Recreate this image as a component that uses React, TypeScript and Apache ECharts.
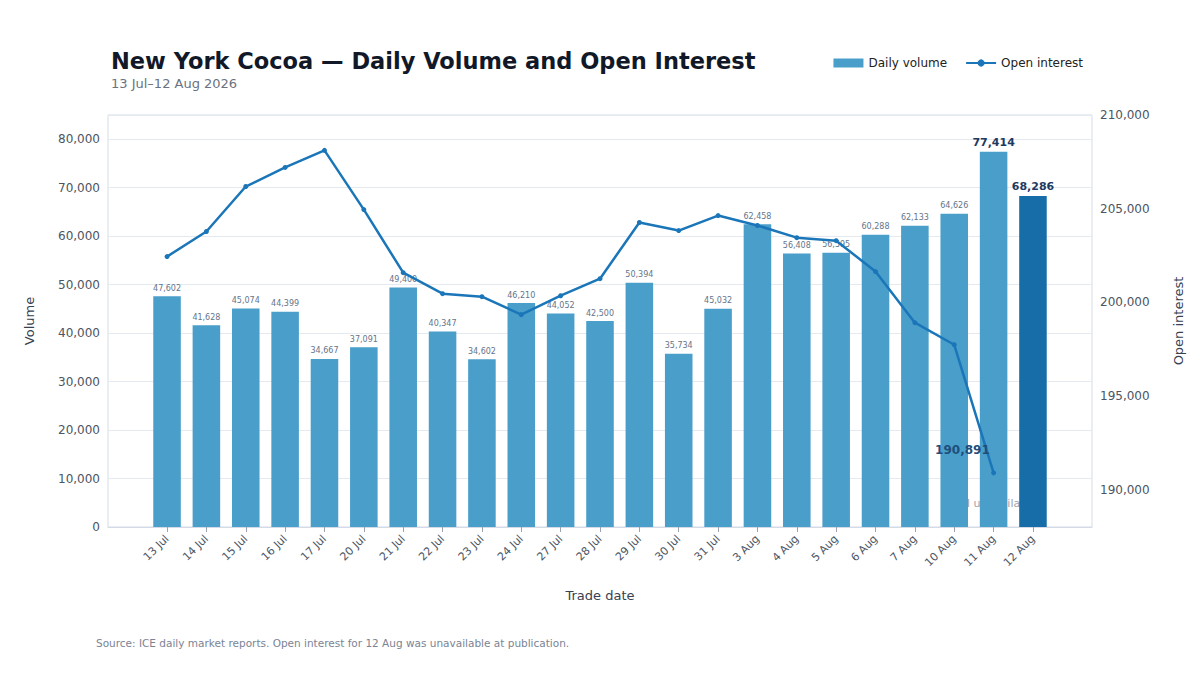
import * as echarts from "echarts";
import { useEffect, useRef } from "react";

const categories = [
  "13 Jul", "14 Jul", "15 Jul", "16 Jul", "17 Jul", "20 Jul", "21 Jul", "22 Jul",
  "23 Jul", "24 Jul", "27 Jul", "28 Jul", "29 Jul", "30 Jul", "31 Jul", "3 Aug",
  "4 Aug", "5 Aug", "6 Aug", "7 Aug", "10 Aug", "11 Aug", "12 Aug",
];
const volume = [
  47602, 41628, 45074, 44399, 34667, 37091, 49400, 40347, 34602, 46210, 44052,
  42500, 50394, 35734, 45032, 62458, 56408, 56595, 60288, 62133, 64626, 77414, 68286,
];
const openInterest: (number | null)[] = [
  202440, 203780, 206180, 207200, 208110, 204950, 201580, 200460, 200300, 199340,
  200350, 201260, 204260, 203830, 204630, 204100, 203450, 203290, 201640, 198910,
  197730, 190891, null,
];

const fmt = (v: number) => v.toLocaleString("en-US");
const FONT = "DejaVu Sans";

const App = () => {
  const ref = useRef<HTMLDivElement>(null);

  useEffect(() => {
    if (!ref.current) return;
    const chart = echarts.init(ref.current, undefined, { renderer: "svg" });
    const last = volume.length - 1;
    const maxIdx = volume.indexOf(Math.max(...volume));
    // one empty slot on each side, as the reference leaves a gap at both ends
    const cats = ["", ...categories, ""];

    const barData = volume.map((v, i) => {
      const strong = i === last || i === maxIdx;
      return {
        value: v,
        itemStyle: i === last ? { color: "#176da7" } : undefined,
        label: {
          show: true,
          position: "top",
          distance: 4,
          formatter: fmt(v),
          fontSize: strong ? 11 : 8,
          fontWeight: strong ? "bold" : "normal",
          color: strong ? "#1e3a5f" : "#64748b",
        },
      };
    });
    const lineData = openInterest.map((v, i) =>
      i === 21
        ? {
            value: v,
            label: {
              show: true,
              position: [-56, -26],
              formatter: fmt(v as number),
              fontSize: 12,
              fontWeight: "bold",
              color: "#1e4f7a",
            },
          }
        : v,
    );

    chart.setOption({
      animation: false,
      textStyle: { fontFamily: FONT },
      title: {
        text: "New York Cocoa — Daily Volume and Open Interest",
        subtext: "13 Jul–12 Aug 2026",
        left: 106,
        top: 44,
        itemGap: 5,
        textStyle: { fontSize: 22.5, fontWeight: "bold", color: "#111827", fontFamily: FONT },
        subtextStyle: { fontSize: 13, color: "#6b7280", fontFamily: FONT },
      },
      legend: {
        right: 112,
        top: 52,
        itemWidth: 30,
        itemHeight: 9,
        itemGap: 18,
        textStyle: { fontSize: 12, color: "#222", fontFamily: FONT },
        data: [
          { name: "Daily volume", icon: "rect" },
          { name: "Open interest" },
        ],
      },
      grid: { left: 108, right: 108, top: 115, bottom: 148, show: true, borderColor: "#d5dbe6", borderWidth: 1 },
      xAxis: {
        type: "category",
        data: cats,
        name: "Trade date",
        nameLocation: "middle",
        nameGap: 62,
        nameTextStyle: { fontSize: 13, color: "#374151" },
        axisLine: { lineStyle: { color: "#d5dbe6" } },
        axisTick: {
          show: true,
          alignWithLabel: true,
          interval: (i: number) => i > 0 && i < cats.length - 1,
          lineStyle: { color: "#9ca3af" },
        },
        axisLabel: { rotate: 45, fontSize: 11, color: "#4b5563", margin: 10, interval: 0 },
      },
      yAxis: [
        {
          type: "value",
          min: 0,
          max: 85000,
          interval: 10000,
          name: "Volume",
          nameLocation: "middle",
          nameGap: 72,
          nameTextStyle: { fontSize: 13, color: "#374151" },
          axisLine: { show: false },
          axisLabel: {
            fontSize: 12,
            color: "#4b5563",
            formatter: (v: number) => (v % 10000 === 0 ? fmt(v) : ""),
          },
          splitLine: { lineStyle: { color: "#e5e9f0" } },
        },
        {
          type: "value",
          min: 188000,
          max: 210000,
          interval: 1000,
          name: "Open interest",
          nameLocation: "middle",
          nameGap: 80,
          nameTextStyle: { fontSize: 13, color: "#374151" },
          axisLine: { show: false },
          axisTick: { show: false },
          axisLabel: {
            fontSize: 12,
            color: "#4b5563",
            formatter: (v: number) => (v % 5000 === 0 ? fmt(v) : ""),
          },
          splitLine: { show: false },
        },
      ],
      series: [
        {
          name: "Daily volume",
          type: "bar",
          barWidth: "70%",
          itemStyle: { color: "#4a9eca" },
          data: [null, ...barData, null],
        },
        {
          name: "Open interest",
          type: "line",
          yAxisIndex: 1,
          symbol: "circle",
          symbolSize: 5,
          lineStyle: { width: 2.5, color: "#1a76b8" },
          itemStyle: { color: "#1a76b8" },
          data: [null, ...lineData, null],
        },
      ],
      graphic: [
        {
          type: "text",
          left: 958,
          top: 498,
          style: { text: "OI unavailable", fontSize: 11, fill: "#9ca3af", fontFamily: FONT },
        },
        {
          type: "text",
          left: 96,
          top: 637,
          style: {
            text: "Source: ICE daily market reports. Open interest for 12 Aug was unavailable at publication.",
            fontSize: 10.5,
            fill: "#7b8494",
            fontFamily: FONT,
          },
        },
      ],
    });

    return () => chart.dispose();
  }, []);

  return <div ref={ref} style={{ width: 1200, height: 675, margin: -8 }} />;
};

export default App;
